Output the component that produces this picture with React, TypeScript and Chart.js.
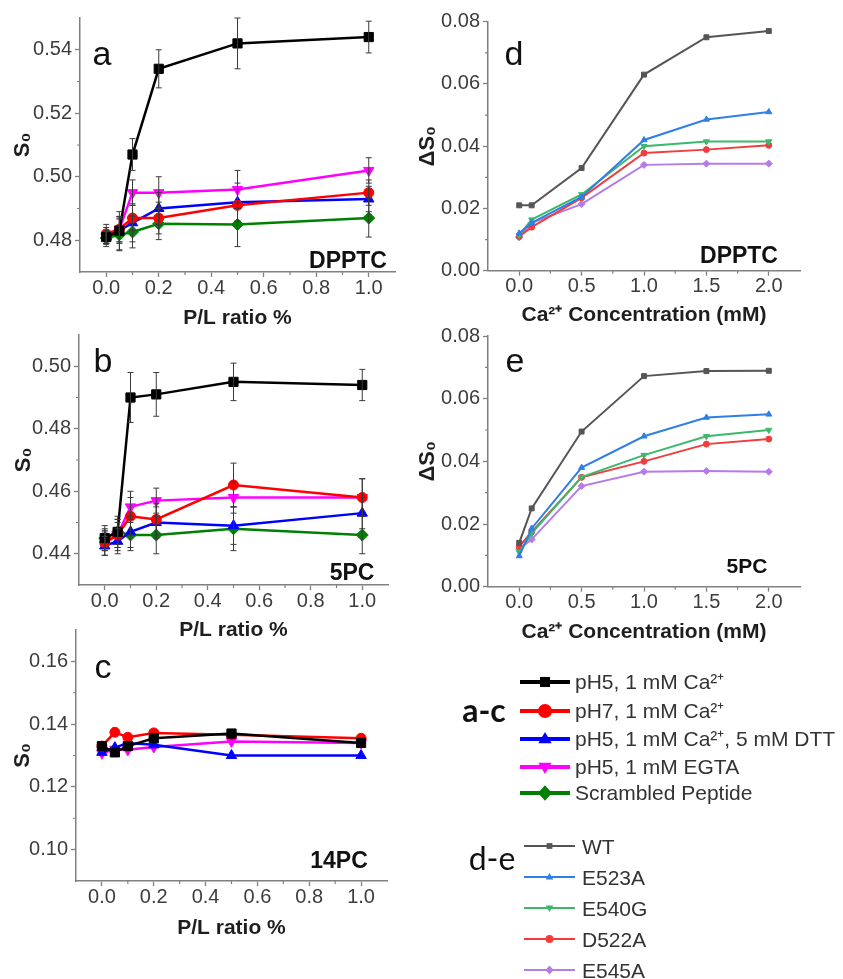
import React, { useEffect, useRef } from 'react';
import { Chart, registerables } from 'chart.js';
Chart.register(...registerables);

// ---------- data ----------
const plX = [0, 0.05, 0.1, 0.2, 0.5, 1.0];
const caX = [0, 0.1, 0.5, 1.0, 1.5, 2.0];

const plTicks = [0, 0.2, 0.4, 0.6, 0.8, 1.0];
const plMinor = [0.1, 0.3, 0.5, 0.7, 0.9];
const caTicks = [0, 0.5, 1.0, 1.5, 2.0];
const caMinor = [0.25, 0.75, 1.25, 1.75];

const aTicks = [0.48, 0.5, 0.52, 0.54];
const aMinor = [0.49, 0.51, 0.53];
const bTicks = [0.44, 0.46, 0.48, 0.5];
const bMinor = [0.45, 0.47, 0.49];
const cTicks = [0.1, 0.12, 0.14, 0.16];
const cMinor = [0.11, 0.13, 0.15];
const deTicks = [0, 0.02, 0.04, 0.06, 0.08];
const deMinor = [0.01, 0.03, 0.05, 0.07];

const acLabels = ['pH5, 1 mM Ca²⁺', 'pH7, 1 mM Ca²⁺', 'pH5, 1 mM Ca²⁺, 5 mM DTT', 'pH5, 1 mM EGTA', 'Scrambled Peptide'];
const deLabels = ['WT', 'E523A', 'E540G', 'D522A', 'E545A'];

// panel a (DPPTC)
const aPH5Ca = [0.481, 0.483, 0.507, 0.534, 0.542, 0.544];
const aPH5CaErr = [0.003, 0.006, 0.005, 0.006, 0.008, 0.005];
const aPH7Ca = [0.482, 0.4835, 0.487, 0.487, 0.491, 0.495];
const aPH7CaErr = [0.003, 0.004, 0.004, 0.005, 0.005, 0.004];
const aDTT = [0.481, 0.483, 0.4855, 0.49, 0.492, 0.493];
const aDTTErr = [0.002, 0.004, 0.006, 0.005, 0.006, 0.004];
const aEGTA = [0.481, 0.4835, 0.495, 0.495, 0.496, 0.502];
const aEGTAErr = [0.002, 0.004, 0.004, 0.005, 0.006, 0.004];
const aScr = [0.4807, 0.4817, 0.4826, 0.4852, 0.485, 0.487];
const aScrErr = [0.002, 0.005, 0.005, 0.005, 0.007, 0.006];

// panel b (5PC)
const bPH5Ca = [0.445, 0.447, 0.49, 0.491, 0.495, 0.494];
const bPH5CaErr = [0.003, 0.004, 0.008, 0.007, 0.006, 0.005];
const bPH7Ca = [0.4435, 0.446, 0.452, 0.451, 0.462, 0.458];
const bPH7CaErr = [0.004, 0.005, 0.006, 0.005, 0.007, 0.006];
const bDTT = [0.4425, 0.444, 0.447, 0.45, 0.449, 0.453];
const bDTTErr = [0.003, 0.004, 0.005, 0.005, 0.006, 0.005];
const bEGTA = [0.444, 0.446, 0.455, 0.457, 0.458, 0.458];
const bEGTAErr = [0.003, 0.004, 0.005, 0.004, 0.005, 0.006];
const bScr = [0.445, 0.447, 0.446, 0.446, 0.448, 0.446];
const bScrErr = [0.004, 0.005, 0.005, 0.006, 0.007, 0.006];

// panel c (14PC)
const cPH5Ca = [0.133, 0.131, 0.133, 0.1355, 0.137, 0.134];
const cPH7Ca = [0.133, 0.1374, 0.1358, 0.1372, 0.1366, 0.1355];
const cDTT = [0.131, 0.1325, 0.134, 0.1334, 0.13, 0.13];
const cEGTA = [0.1307, 0.132, 0.1318, 0.1327, 0.1345, 0.134];

// panel d (DPPTC)
const dWT = [0.021, 0.021, 0.033, 0.063, 0.075, 0.077];
const dE523A = [0.012, 0.0154, 0.0237, 0.042, 0.0486, 0.051];
const dE540G = [0.0114, 0.0164, 0.0245, 0.04, 0.0415, 0.0415];
const dD522A = [0.011, 0.014, 0.0234, 0.0378, 0.0389, 0.0403];
const dE545A = [0.0107, 0.0154, 0.0214, 0.034, 0.0344, 0.0344];

// panel e (5PC)
const eWT = [0.014, 0.025, 0.0495, 0.0672, 0.0688, 0.0689];
const eE523A = [0.0098, 0.0186, 0.038, 0.048, 0.054, 0.055];
const eE540G = [0.011, 0.017, 0.035, 0.042, 0.048, 0.05];
const eD522A = [0.0128, 0.0175, 0.0349, 0.04, 0.0455, 0.0471];
const eE545A = [0.012, 0.0151, 0.0321, 0.0367, 0.0369, 0.0367];

// ---------- styles ----------
const FONT = '"Liberation Sans", Arial, sans-serif';
const AXIS = '#808080';
const TICKTXT = '#3c3c3c';
const TITLE = '#1e1e1e';

const acStyle = [
  { color: '#000000', style: 'rect', radius: 6.5, rot: 0 },
  { color: '#ff0000', style: 'circle', radius: 5, rot: 0 },
  { color: '#0000ff', style: 'triangle', radius: 6, rot: 0 },
  { color: '#ff00ff', style: 'triangle', radius: 6, rot: 180 },
  { color: '#008000', style: 'rectRot', radius: 6, rot: 0 },
];
const deStyle = [
  { color: '#555555', style: 'rect', radius: 3.5, rot: 0 },
  { color: '#2f7fe6', style: 'triangle', radius: 3.5, rot: 0 },
  { color: '#3cb86c', style: 'triangle', radius: 3.5, rot: 180 },
  { color: '#f03c3c', style: 'circle', radius: 3, rot: 0 },
  { color: '#b57bea', style: 'rectRot', radius: 3.5, rot: 0 },
];

type Txt = { t: string; x: number; y: number; font: string; color?: string; align?: CanvasTextAlign };
type Spec = {
  cv: { x: number; y: number; w: number; h: number };
  area: { L: number; T: number; R: number; B: number };
  xRange: [number, number];
  yRange: [number, number];
  xTicks: number[]; xMinor: number[]; xDec: number;
  yTicks: number[]; yMinor: number[]; yDec: number;
  xTitle: string; yTitle: string; xTitlePad: number; yTitlePad: number;
  xs: number[];
  series: { data: number[]; err?: number[] }[];
  styles: typeof acStyle;
  labels: string[];
  lw: number;
  texts: Txt[];
};

function buildChart(canvas: HTMLCanvasElement, p: Spec) {
  const { cv, area } = p;
  const errPlugin = {
    id: 'errbars',
    afterDatasetsDraw(chart: any) {
      const ctx = chart.ctx;
      const ys = chart.scales.y;
      chart.data.datasets.forEach((ds: any, di: number) => {
        const err = ds.errors;
        if (!err) return;
        const meta = chart.getDatasetMeta(di);
        ctx.save();
        ctx.strokeStyle = '#3a3a3a';
        ctx.lineWidth = 1;
        meta.data.forEach((pt: any, i: number) => {
          const v = ds.data[i].y;
          const t = ys.getPixelForValue(v + err[i]);
          const b = ys.getPixelForValue(v - err[i]);
          ctx.beginPath();
          ctx.moveTo(pt.x, t); ctx.lineTo(pt.x, b);
          ctx.moveTo(pt.x - 3, t); ctx.lineTo(pt.x + 3, t);
          ctx.moveTo(pt.x - 3, b); ctx.lineTo(pt.x + 3, b);
          ctx.stroke();
        });
        ctx.restore();
      });
    },
  };
  const minorPlugin = {
    id: 'minor',
    afterDraw(chart: any) {
      const ctx = chart.ctx;
      const xs = chart.scales.x, ys = chart.scales.y;
      const ca = chart.chartArea;
      ctx.save();
      ctx.strokeStyle = AXIS;
      ctx.lineWidth = 1.2;
      ctx.beginPath();
      p.xMinor.forEach((v) => {
        const px = xs.getPixelForValue(v);
        ctx.moveTo(px, ca.bottom); ctx.lineTo(px, ca.bottom + 3);
      });
      p.yMinor.forEach((v) => {
        const py = ys.getPixelForValue(v);
        ctx.moveTo(ca.left, py); ctx.lineTo(ca.left - 3, py);
      });
      ctx.stroke();
      ctx.restore();
    },
  };
  const textPlugin = {
    id: 'texts',
    afterDraw(chart: any) {
      const ctx = chart.ctx;
      ctx.save();
      p.texts.forEach((t) => {
        ctx.font = t.font;
        ctx.fillStyle = t.color || '#111';
        ctx.textAlign = t.align || 'center';
        ctx.textBaseline = 'alphabetic';
        ctx.fillText(t.t, t.x - cv.x, t.y - cv.y);
      });
      ctx.restore();
    },
  };
  const tickFont = { family: FONT, size: 20, lineHeight: 1 };
  return new Chart(canvas, {
    type: 'line',
    data: {
      datasets: p.series.map((s, i) => ({
        label: p.labels[i],
        data: p.xs.map((x, j) => ({ x, y: s.data[j] })),
        errors: s.err,
        borderColor: p.styles[i].color,
        backgroundColor: p.styles[i].color,
        pointBackgroundColor: p.styles[i].color,
        pointBorderColor: p.styles[i].color,
        pointStyle: p.styles[i].style,
        pointRotation: p.styles[i].rot,
        pointRadius: p.styles[i].radius,
        pointBorderWidth: 1,
        borderWidth: p.lw,
        tension: 0,
        fill: false,
      })) as any,
    },
    options: {
      animation: false,
      responsive: false,
      events: [],
      layout: { padding: { left: 0, top: area.T - cv.y, right: cv.x + cv.w - area.R, bottom: 0 } },
      plugins: { legend: { display: false }, tooltip: { enabled: false } },
      scales: {
        x: {
          type: 'linear',
          min: p.xRange[0], max: p.xRange[1],
          afterBuildTicks: (s: any) => { s.ticks = p.xTicks.map((v) => ({ value: v })); },
          afterFit: (s: any) => { s.height = cv.y + cv.h - area.B; },
          ticks: { autoSkip: false, maxRotation: 0, font: tickFont, color: TICKTXT, padding: 1, callback: (v: any) => Number(v).toFixed(p.xDec) },
          grid: { drawOnChartArea: false, drawTicks: true, tickLength: 5, tickColor: AXIS, tickWidth: 1.3 },
          border: { display: true, color: AXIS, width: 1.5 },
          title: { display: true, text: p.xTitle, color: TITLE, font: { family: FONT, size: 21, weight: 'bold' }, padding: { top: 0, bottom: p.xTitlePad } },
        },
        y: {
          type: 'linear',
          position: 'left',
          min: p.yRange[0], max: p.yRange[1],
          afterBuildTicks: (s: any) => { s.ticks = p.yTicks.map((v) => ({ value: v })); },
          afterFit: (s: any) => { s.width = area.L - cv.x; },
          ticks: { autoSkip: false, font: tickFont, color: TICKTXT, padding: 3, callback: (v: any) => Number(v).toFixed(p.yDec) },
          grid: { drawOnChartArea: false, drawTicks: true, tickLength: 5, tickColor: AXIS, tickWidth: 1.3 },
          border: { display: true, color: AXIS, width: 1.5 },
          title: { display: true, text: p.yTitle, color: TITLE, font: { family: FONT, size: 22, weight: 'bold' }, padding: { top: p.yTitlePad, bottom: 0 } },
        },
      },
    } as any,
    plugins: [errPlugin, minorPlugin, textPlugin],
  });
}

const LETTER = `34px ${FONT}`;
const COND = `bold 23px ${FONT}`;

const specs: Spec[] = [
  {
    cv: { x: 0, y: 0, w: 420, h: 335 }, area: { L: 80, T: 18, R: 395, B: 272 },
    xRange: [-0.1, 1.1], yRange: [0.47, 0.55],
    xTicks: plTicks, xMinor: plMinor, xDec: 1, yTicks: aTicks, yMinor: aMinor, yDec: 2,
    xTitle: 'P/L ratio %', yTitle: 'S₀', xTitlePad: 4, yTitlePad: 10, xs: plX,
    series: [
      { data: aPH5Ca, err: aPH5CaErr }, { data: aPH7Ca, err: aPH7CaErr }, { data: aDTT, err: aDTTErr },
      { data: aEGTA, err: aEGTAErr }, { data: aScr, err: aScrErr },
    ],
    styles: acStyle, labels: acLabels, lw: 2.5,
    texts: [{ t: 'a', x: 102, y: 65, font: LETTER }, { t: 'DPPTC', x: 348, y: 268, font: COND }],
  },
  {
    cv: { x: 0, y: 320, w: 420, h: 330 }, area: { L: 79, T: 335, R: 388, B: 585 },
    xRange: [-0.1, 1.1], yRange: [0.43, 0.51],
    xTicks: plTicks, xMinor: plMinor, xDec: 1, yTicks: bTicks, yMinor: bMinor, yDec: 2,
    xTitle: 'P/L ratio %', yTitle: 'S₀', xTitlePad: 7, yTitlePad: 11, xs: plX,
    series: [
      { data: bPH5Ca, err: bPH5CaErr }, { data: bPH7Ca, err: bPH7CaErr }, { data: bDTT, err: bDTTErr },
      { data: bEGTA, err: bEGTAErr }, { data: bScr, err: bScrErr },
    ],
    styles: acStyle, labels: acLabels, lw: 2.5,
    texts: [{ t: 'b', x: 103, y: 372, font: LETTER }, { t: '5PC', x: 352, y: 580, font: COND }],
  },
  {
    cv: { x: 0, y: 615, w: 420, h: 335 }, area: { L: 76, T: 630, R: 387, B: 881 },
    xRange: [-0.1, 1.1], yRange: [0.09, 0.17],
    xTicks: plTicks, xMinor: plMinor, xDec: 1, yTicks: cTicks, yMinor: cMinor, yDec: 2,
    xTitle: 'P/L ratio %', yTitle: 'S₀', xTitlePad: 9, yTitlePad: 10, xs: plX,
    series: [{ data: cPH5Ca }, { data: cPH7Ca }, { data: cDTT }, { data: cEGTA }],
    styles: acStyle, labels: acLabels, lw: 2.5,
    texts: [{ t: 'c', x: 103, y: 678, font: LETTER }, { t: '14PC', x: 339, y: 868, font: COND }],
  },
  {
    cv: { x: 410, y: 0, w: 433, h: 335 }, area: { L: 488, T: 21.7, R: 800, B: 270.7 },
    xRange: [-0.25, 2.25], yRange: [0, 0.08],
    xTicks: caTicks, xMinor: caMinor, xDec: 1, yTicks: deTicks, yMinor: deMinor, yDec: 2,
    xTitle: 'Ca²⁺ Concentration (mM)', yTitle: 'ΔS₀', xTitlePad: 7, yTitlePad: 5, xs: caX,
    series: [{ data: dWT }, { data: dE523A }, { data: dE540G }, { data: dD522A }, { data: dE545A }],
    styles: deStyle, labels: deLabels, lw: 2,
    texts: [{ t: 'd', x: 514, y: 65, font: LETTER }, { t: 'DPPTC', x: 739, y: 263, font: COND }],
  },
  {
    cv: { x: 410, y: 320, w: 433, h: 330 }, area: { L: 488, T: 336, R: 800, B: 586.7 },
    xRange: [-0.25, 2.25], yRange: [0, 0.08],
    xTicks: caTicks, xMinor: caMinor, xDec: 1, yTicks: deTicks, yMinor: deMinor, yDec: 2,
    xTitle: 'Ca²⁺ Concentration (mM)', yTitle: 'ΔS₀', xTitlePad: 5, yTitlePad: 5, xs: caX,
    series: [{ data: eWT }, { data: eE523A }, { data: eE540G }, { data: eD522A }, { data: eE545A }],
    styles: deStyle, labels: deLabels, lw: 2,
    texts: [{ t: 'e', x: 515, y: 372, font: LETTER }, { t: '5PC', x: 747, y: 573, font: `bold 21px ${FONT}` }],
  },
];

function Panel({ spec }: { spec: Spec }) {
  const ref = useRef<HTMLCanvasElement | null>(null);
  useEffect(() => {
    if (!ref.current) return;
    const ch = buildChart(ref.current, spec);
    return () => ch.destroy();
  }, [spec]);
  return (
    <canvas
      ref={ref}
      width={spec.cv.w}
      height={spec.cv.h}
      style={{ position: 'absolute', left: spec.cv.x, top: spec.cv.y, width: spec.cv.w, height: spec.cv.h }}
    />
  );
}

function Marker({ shape, cx, cy, s, color, rot }: { shape: string; cx: number; cy: number; s: number; color: string; rot: number }) {
  if (shape === 'rect') return <rect x={cx - s * 0.72} y={cy - s * 0.72} width={s * 1.44} height={s * 1.44} fill={color} />;
  if (shape === 'circle') return <circle cx={cx} cy={cy} r={s} fill={color} />;
  if (shape === 'rectRot') return <polygon points={`${cx},${cy - s * 1.1} ${cx + s},${cy} ${cx},${cy + s * 1.1} ${cx - s},${cy}`} fill={color} />;
  const d = rot ? -1 : 1;
  return <polygon points={`${cx},${cy - d * s} ${cx + s * 0.95},${cy + d * s * 0.6} ${cx - s * 0.95},${cy + d * s * 0.6}`} fill={color} />;
}

function Legends() {
  const acY = [682, 711, 739, 767, 793];
  const deY = [846, 877, 908, 939, 970];
  return (
    <svg width={843} height={979} style={{ position: 'absolute', left: 0, top: 0, pointerEvents: 'none' }}>
      <text x={484} y={722} textAnchor="middle" fontFamily="Lato, 'Open Sans', sans-serif" fontWeight="bold" fontSize={32} fill="#111">a-c</text>
      {acLabels.map((lab, i) => (
        <g key={lab}>
          <line x1={520} x2={570} y1={acY[i]} y2={acY[i]} stroke={acStyle[i].color} strokeWidth={4} />
          <Marker shape={acStyle[i].style} cx={545} cy={acY[i]} s={7} color={acStyle[i].color} rot={acStyle[i].rot} />
          <text x={575} y={acY[i] + 7} fontFamily={FONT} fontSize={21} fill="#333">{lab}</text>
        </g>
      ))}
      <text x={492} y={870} textAnchor="middle" fontFamily="Lato, 'Open Sans', sans-serif" fontSize={32} fill="#111">d-e</text>
      {deLabels.map((lab, i) => (
        <g key={lab}>
          <line x1={524} x2={575} y1={deY[i]} y2={deY[i]} stroke={deStyle[i].color} strokeWidth={2} />
          <Marker shape={deStyle[i].style} cx={549.5} cy={deY[i]} s={4} color={deStyle[i].color} rot={deStyle[i].rot} />
          <text x={582} y={deY[i] + 7.5} fontFamily={FONT} fontSize={21} fill="#333">{lab}</text>
        </g>
      ))}
    </svg>
  );
}

export default function App() {
  return (
    <div style={{ position: 'absolute', left: 0, top: 0, width: 843, height: 979, background: '#fff', overflow: 'hidden' }}>
      {specs.map((s, i) => (
        <Panel key={i} spec={s} />
      ))}
      <Legends />
    </div>
  );
}
